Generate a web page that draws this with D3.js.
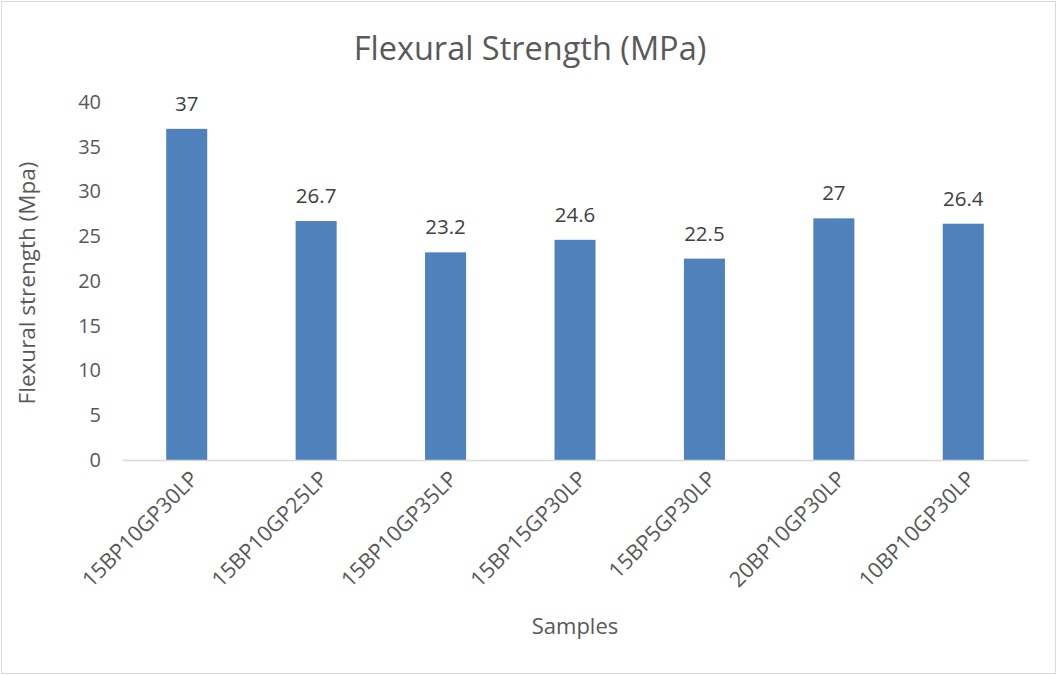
<!DOCTYPE html>
<html>
<head>
<meta charset="utf-8">
<script src="https://cdn.jsdelivr.net/npm/d3@7/dist/d3.min.js"></script>
<style>
  html, body { margin: 0; padding: 0; background: #fff; }
  svg text { font-family: "Open Sans", "Noto Sans", sans-serif; fill: #595959; }
</style>
</head>
<body>
<script>
// Sample mixes and their flexural strength (MPa)
const samples = ["15BP10GP30LP", "15BP10GP25LP", "15BP10GP35LP", "15BP15GP30LP", "15BP5GP30LP", "20BP10GP30LP", "10BP10GP30LP"];
const strength = [37, 26.7, 23.2, 24.6, 22.5, 27, 26.4];
const yTicks = [0, 5, 10, 15, 20, 25, 30, 35, 40];

const W = 1057, H = 675;
const margin = { left: 122, right: 29, top: 102, bottom: 215 };

const svg = d3.select("body").append("svg")
  .attr("width", W).attr("height", H);

// chart frame
svg.append("rect")
  .attr("x", 1.5).attr("y", 1.5)
  .attr("width", W - 3).attr("height", H - 3)
  .attr("fill", "#fff").attr("stroke", "#d9d9d9").attr("stroke-width", 1);

const x = d3.scaleBand()
  .domain(samples)
  .range([margin.left, W - margin.right])
  .paddingInner(0.683).paddingOuter(0.3415);

const y = d3.scaleLinear()
  .domain([0, 40])
  .range([H - margin.bottom, margin.top]);

// title
svg.append("text")
  .attr("x", 530).attr("y", 60)
  .attr("text-anchor", "middle")
  .style("font-size", "32.5px")
  .text("Flexural Strength (MPa)");

// y axis labels (no line, no ticks)
const yAxis = svg.append("g")
  .attr("transform", `translate(${margin.left - 21},0)`)
  .call(d3.axisLeft(y).tickValues(yTicks).tickSize(0).tickPadding(0));
yAxis.select(".domain").remove();
yAxis.selectAll("text")
  .style("font-size", "20px")
  .style("font-family", "\"Open Sans\", sans-serif")
  .attr("fill", "#595959");

// bars
svg.append("g").selectAll("rect")
  .data(samples)
  .join("rect")
  .attr("x", d => x(d))
  .attr("width", x.bandwidth())
  .attr("y", (d, i) => y(strength[i]))
  .attr("height", (d, i) => y(0) - y(strength[i]))
  .attr("fill", "#4f81bd");

// value labels
svg.append("g").selectAll("text")
  .data(samples)
  .join("text")
  .attr("x", d => x(d) + x.bandwidth() / 2)
  .attr("y", (d, i) => y(strength[i]) - 18)
  .attr("text-anchor", "middle")
  .style("font-size", "20.5px")
  .style("fill", "#404040")
  .text((d, i) => strength[i]);

// x axis
const xAxis = svg.append("g")
  .attr("transform", `translate(0,${y(0)})`)
  .call(d3.axisBottom(x).tickSize(0).tickPadding(0));
xAxis.select(".domain").attr("stroke", "#d9d9d9").attr("stroke-width", 1.5);
xAxis.selectAll("text")
  .style("font-size", "21.5px")
  .style("font-family", "\"Open Sans\", sans-serif")
  .attr("fill", "#595959")
  .attr("text-anchor", "end")
  .attr("dy", "0")
  .attr("transform", "translate(13,20) rotate(-45)");

// axis titles
svg.append("text")
  .attr("transform", `translate(35,${(y(0) + y(40)) / 2 + 2}) rotate(-90)`)
  .attr("text-anchor", "middle")
  .style("font-size", "22.5px")
  .text("Flexural strength (Mpa)");

svg.append("text")
  .attr("x", 575).attr("y", 634)
  .attr("text-anchor", "middle")
  .style("font-size", "22px")
  .text("Samples");
</script>
</body>
</html>
